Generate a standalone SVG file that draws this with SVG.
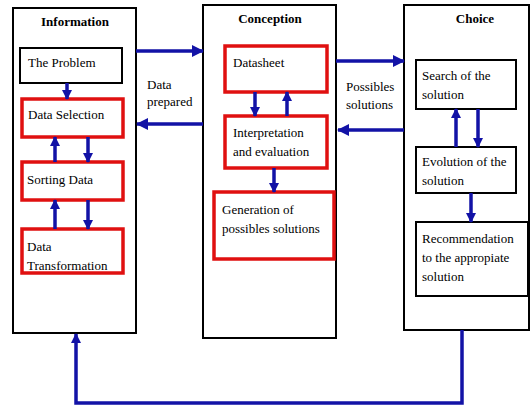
<svg xmlns="http://www.w3.org/2000/svg" width="531" height="407" viewBox="0 0 531 407">
<defs>
<style>
.outer{fill:#fff;stroke:#000;stroke-width:2}
.blk{fill:#fff;stroke:#000;stroke-width:2}
.red{fill:#fff;stroke:#e01010;stroke-width:3.5}
.t{font-size:13px;fill:#000}
.h{font-size:13px;font-weight:bold;fill:#000}
.c{fill:none;stroke:#1212a6;stroke-width:3.5}
</style>
<marker id="ah" markerUnits="userSpaceOnUse" markerWidth="12" markerHeight="12" refX="11" refY="6" orient="auto" viewBox="0 0 12 12">
<path d="M0,0 L12,6 L0,12 z" fill="#1212a6"/>
</marker>
<marker id="as" markerUnits="userSpaceOnUse" markerWidth="10" markerHeight="10" refX="9" refY="5" orient="auto" viewBox="0 0 10 10">
<path d="M0,0 L10,5 L0,10 z" fill="#1212a6"/>
</marker>
</defs>
<rect width="531" height="407" fill="#fff"/>
<g font-family="Liberation Serif, Times New Roman, DejaVu Serif, serif">
<g id="information">
<rect class="outer" x="13" y="8" width="123" height="325"/>
<text class="h" x="75" y="26" text-anchor="middle">Information</text>
</g>
<g id="the-problem">
<rect class="blk" x="20" y="48" width="102" height="35"/>
<text class="t" x="28" y="67">The Problem</text>
</g>
<g id="data-selection">
<rect class="red" x="22" y="99" width="101" height="38"/>
<text class="t" x="28" y="119">Data Selection</text>
</g>
<g id="sorting-data">
<rect class="red" x="22" y="162" width="101" height="38"/>
<text class="t" x="27" y="184">Sorting Data</text>
</g>
<g id="data-transformation">
<rect class="red" x="22" y="229" width="101" height="44"/>
<text class="t" x="27" y="251">Data</text>
<text class="t" x="27" y="270">Transformation</text>
</g>

<g id="conception">
<rect class="outer" x="203" y="5" width="133" height="333"/>
<text class="h" x="270" y="23" text-anchor="middle">Conception</text>
</g>
<g id="datasheet">
<rect class="red" x="225" y="46" width="102" height="46"/>
<text class="t" x="233" y="67">Datasheet</text>
</g>
<g id="interpretation">
<rect class="red" x="225" y="116" width="102" height="52"/>
<text class="t" x="233" y="137">Interpretation</text>
<text class="t" x="233" y="156">and evaluation</text>
</g>
<g id="generation">
<rect class="red" x="214" y="192" width="120" height="67"/>
<text class="t" x="222" y="214">Generation of</text>
<text class="t" x="222" y="233">possibles solutions</text>
</g>

<g id="choice">
<rect class="outer" x="404" y="5" width="125" height="325"/>
<text class="h" x="475" y="23" text-anchor="middle">Choice</text>
</g>
<g id="search">
<rect class="blk" x="416" y="60" width="100" height="49"/>
<text class="t" x="422" y="80">Search of the</text>
<text class="t" x="422" y="99">solution</text>
</g>
<g id="evolution">
<rect class="blk" x="416" y="147" width="100" height="46"/>
<text class="t" x="422" y="166">Evolution of the</text>
<text class="t" x="422" y="185">solution</text>
</g>
<g id="recommendation">
<rect class="blk" x="416" y="222" width="112" height="74"/>
<text class="t" x="422" y="243">Recommendation</text>
<text class="t" x="422" y="262">to the appropiate</text>
<text class="t" x="422" y="281">solution</text>
</g>

<g id="labels">
<text class="t" x="147" y="89">Data</text>
<text class="t" x="147" y="106">prepared</text>
<text class="t" x="346" y="91">Possibles</text>
<text class="t" x="346" y="109">solutions</text>
</g>
</g>
<g id="connectors">
<path class="c" d="M136,51 H203" marker-end="url(#ah)"/>
<path class="c" d="M203,124 H137" marker-end="url(#ah)"/>
<path class="c" d="M336,61 H404" marker-end="url(#ah)"/>
<path class="c" d="M404,130 H338" marker-end="url(#ah)"/>
<path class="c" d="M67,83 V99" marker-end="url(#as)"/>
<path class="c" d="M55,162 V137" marker-end="url(#as)"/>
<path class="c" d="M88,137 V162" marker-end="url(#as)"/>
<path class="c" d="M55,229 V200" marker-end="url(#as)"/>
<path class="c" d="M88,200 V229" marker-end="url(#as)"/>
<path class="c" d="M255,92 V116" marker-end="url(#as)"/>
<path class="c" d="M287,116 V92" marker-end="url(#as)"/>
<path class="c" d="M274,168 V192" marker-end="url(#as)"/>
<path class="c" d="M456,147 V109" marker-end="url(#as)"/>
<path class="c" d="M478,109 V147" marker-end="url(#as)"/>
<path class="c" d="M471,193 V222" marker-end="url(#as)"/>
<path class="c" d="M462,330 V403 H76 V334" marker-end="url(#as)"/>
</g>
</svg>
